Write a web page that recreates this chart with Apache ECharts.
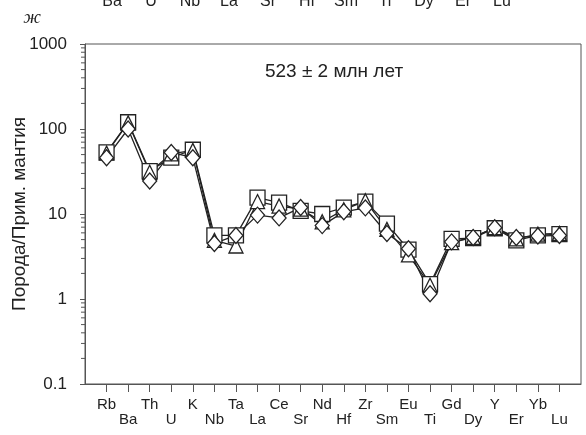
<!DOCTYPE html>
<html><head><meta charset="utf-8">
<script src="https://cdn.jsdelivr.net/npm/echarts@6/dist/echarts.min.js"></script>
<style>html,body{margin:0;padding:0;background:#fff}#c{width:586px;height:435px}</style>
</head><body><div id="c"></div>
<script>
const categories = ['Rb','Ba','Th','U','K','Nb','Ta','La','Ce','Sr','Nd','Hf','Zr','Sm','Eu','Ti','Gd','Dy','Y','Er','Yb','Lu'];
const squareValues   = [53, 120, 32, 46, 57, 5.6, 5.6, 15.6, 13.6, 10.9, 10, 11.9, 14, 7.7, 3.8, 1.5, 5.1, 5.2, 6.8, 4.9, 5.6, 5.8];
const triangleValues = [52, 118, 31, 51, 56, 4.9, 4.2, 14, 12.4, 11.4, 8.1, 11.2, 14.3, 6.6, 3.3, 1.45, 4.6, 5.3, 6.9, 5.1, 5.8, 5.9];
const diamondValues  = [46, 100, 24.5, 53, 46, 4.5, 5.6, 9.7, 9.0, 11.9, 7.3, 10.6, 11.8, 5.9, 3.9, 1.15, 4.7, 5.3, 6.9, 5.3, 5.5, 5.6];
const titleText = '523 ± 2 млн лет';
const yAxisTitle = 'Порода/Прим. мантия';
const panelLetter = 'ж';
const topRowLabels = ['Ba','U','Nb','La','Sr','Hf','Sm','Ti','Dy','Er','Lu'];
const minorDecades = [0.1, 1, 10, 100];
const minorMultipliers = [2, 3, 4, 5, 6, 7, 8, 9];

const FONT = "'Liberation Sans', Arial, sans-serif";
const cats = [''].concat(categories, ['']);
const pad = arr => [null].concat(arr, [null]);
function mk(name, symbol, size, data) {
  return {
    name, type: 'line', data: pad(data), symbol, symbolSize: size, showSymbol: true,
    lineStyle: { color: '#222', width: 1.3 },
    itemStyle: { color: '#fff', borderColor: '#222', borderWidth: 1.3 },
    emphasis: { disabled: true }, animation: false
  };
}
const minorTickData = [];
minorDecades.forEach(d => minorMultipliers.forEach(m => minorTickData.push([0, +(d * m).toPrecision(6)])));

const graphics = [
  { type: 'text', x: 334, y: 72, style: { text: titleText, font: '19px ' + FONT, fill: '#222', align: 'center', verticalAlign: 'middle' } },
  { type: 'text', x: 32, y: 18, style: { text: panelLetter, font: 'italic 19px "Liberation Serif", serif', fill: '#222', align: 'center', verticalAlign: 'middle' } }
];
topRowLabels.forEach((t, i) => {
  graphics.push({ type: 'text', x: 112 + i * 39, y: 10,
    style: { text: t, font: '16px ' + FONT, fill: '#222', align: 'center', verticalAlign: 'bottom' } });
});

const chart = echarts.init(document.getElementById('c'), null, { renderer: 'canvas' });
chart.setOption({
  animation: false,
  grid: { left: 85, right: 5, top: 44, bottom: 51, containLabel: false, outerBoundsMode: 'none',
          show: true, borderColor: '#555', borderWidth: 1, backgroundColor: 'transparent' },
  xAxis: {
    type: 'category', data: cats, boundaryGap: false,
    axisLine: { lineStyle: { color: '#555', width: 1 } },
    axisTick: { show: true, length: 8, lineStyle: { color: '#555' }, interval: (i) => i > 0 && i < cats.length - 1 },
    axisLabel: {
      interval: 0, margin: 13, fontSize: 15, fontFamily: FONT, color: '#222', lineHeight: 15,
      formatter: (v, i) => (i % 2 === 1 ? v : '\n' + v)
    },
    splitLine: { show: false }
  },
  yAxis: {
    type: 'log', logBase: 10, min: 0.1, max: 1000,
    name: yAxisTitle, nameLocation: 'middle', nameGap: 56, nameRotate: 90, nameMoveOverlap: false,
    nameTextStyle: { fontSize: 19, fontFamily: FONT, color: '#222' },
    axisLine: { show: true, lineStyle: { color: '#555', width: 1 } },
    axisTick: { show: true, inside: false, length: 5, lineStyle: { color: '#555' } },
    axisLabel: { fontSize: 17, fontFamily: FONT, color: '#222', margin: 18, formatter: v => String(+v.toPrecision(6)) },
    splitLine: { show: false }
  },
  graphic: graphics,
  series: [
    {
      type: 'custom', name: 'minorTicks', data: minorTickData, silent: true, clip: false,
      renderItem: (params, api) => {
        const p = api.coord([0, api.value(1)]);
        const x0 = params.coordSys.x;
        return { type: 'line', shape: { x1: x0 - 4, y1: p[1], x2: x0, y2: p[1] }, style: { stroke: '#555', lineWidth: 1 } };
      }
    },
    mk('squares', 'rect', 15, squareValues),
    mk('triangles', 'triangle', 14, triangleValues),
    mk('diamonds', 'diamond', [14, 16], diamondValues)
  ]
});
</script></body></html>
